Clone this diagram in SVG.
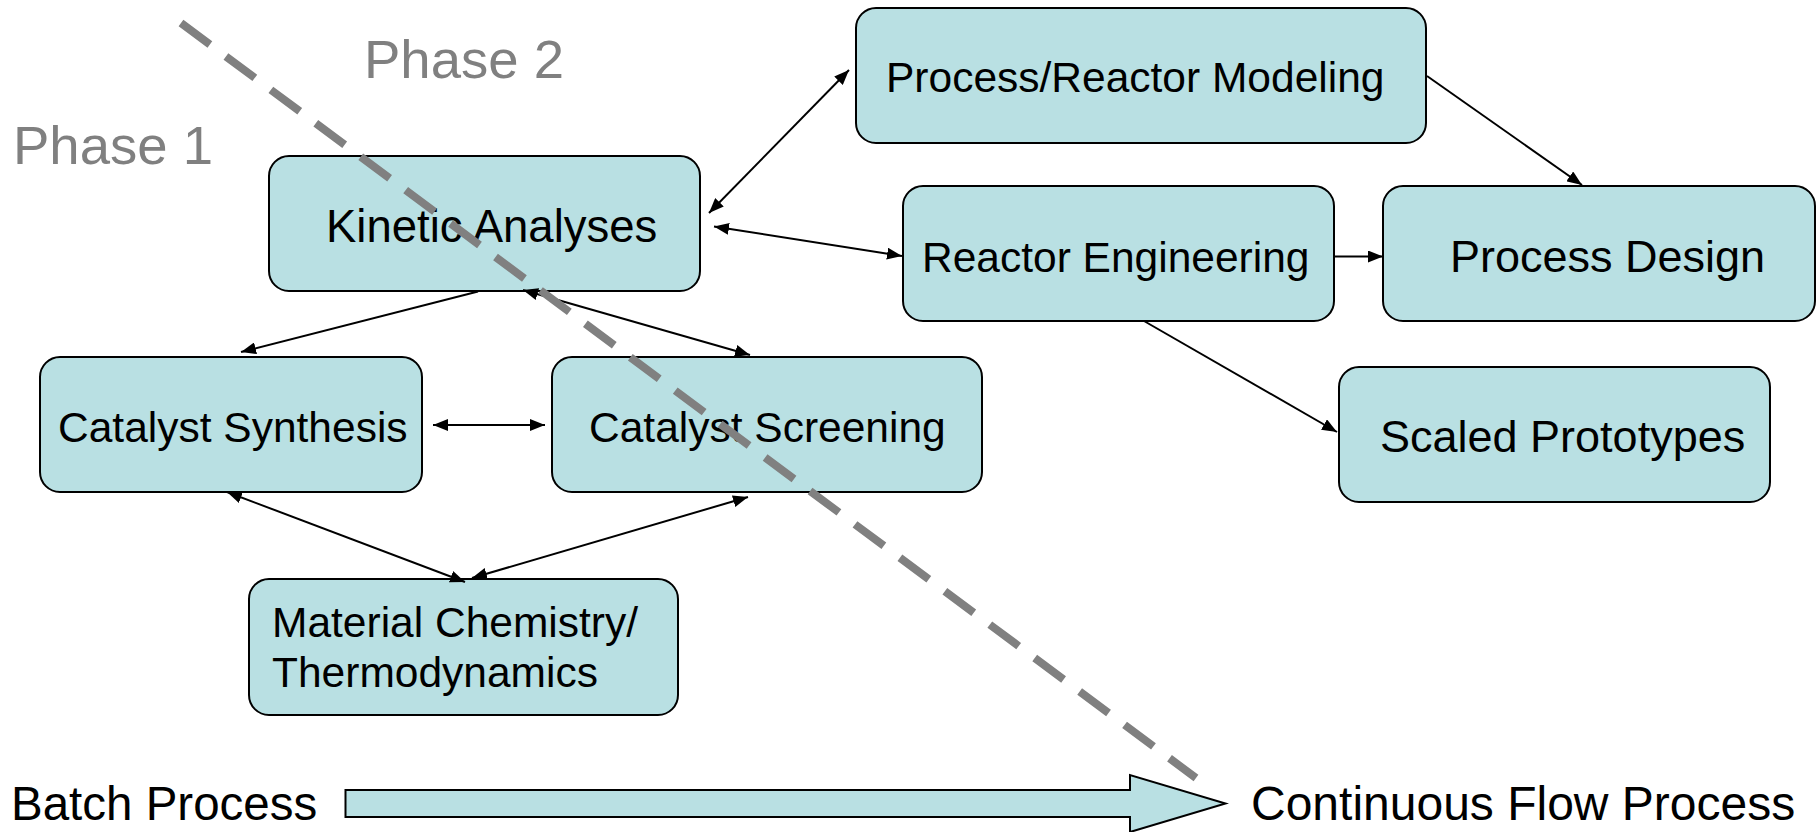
<svg xmlns="http://www.w3.org/2000/svg" width="1818" height="832" viewBox="0 0 1818 832">
<defs>
<style>
.box{fill:#b9e0e3;stroke:#000;stroke-width:2}
.t{font-family:"Liberation Sans",Arial,sans-serif;fill:#000}
.n{font-size:42.5px}
.b{font-size:45px}
.ph{font-family:"Liberation Sans",Arial,sans-serif;font-size:54.5px;fill:#808080}
.c{stroke:#000;stroke-width:2;fill:none}
.one{marker-end:url(#ah)}
.two{marker-start:url(#ah);marker-end:url(#ah)}
</style>
<marker id="ah" markerUnits="userSpaceOnUse" markerWidth="16" markerHeight="12" refX="15" refY="6" orient="auto-start-reverse">
<path d="M0,0 L15,6 L0,12 z" fill="#000"/>
</marker>
</defs>
<rect width="1818" height="832" fill="#fff"/>

<g id="phase-labels">
<text class="ph" x="13" y="164">Phase 1</text>
<text class="ph" x="364" y="78">Phase 2</text>
</g>

<g id="node-kinetic">
<rect class="box" x="269" y="156" width="431" height="135" rx="20"/>
<text class="t" x="326" y="241.5" font-size="45.5">Kinetic Analyses</text>
</g>
<g id="node-modeling">
<rect class="box" x="856" y="8" width="570" height="135" rx="20"/>
<text class="t n" x="886" y="91.5">Process/Reactor Modeling</text>
</g>
<g id="node-reactor">
<rect class="box" x="903" y="186" width="431" height="135" rx="20"/>
<text class="t n" x="922" y="271.5">Reactor Engineering</text>
</g>
<g id="node-design">
<rect class="box" x="1383" y="186" width="432" height="135" rx="20"/>
<text class="t b" x="1450" y="271.5">Process Design</text>
</g>
<g id="node-prototypes">
<rect class="box" x="1339" y="367" width="431" height="135" rx="20"/>
<text class="t b" x="1380" y="451.5">Scaled Prototypes</text>
</g>
<g id="node-synthesis">
<rect class="box" x="40" y="357" width="382" height="135" rx="20"/>
<text class="t n" x="58" y="442">Catalyst Synthesis</text>
</g>
<g id="node-screening">
<rect class="box" x="552" y="357" width="430" height="135" rx="20"/>
<text class="t n" x="589" y="442">Catalyst Screening</text>
</g>
<g id="node-material">
<rect class="box" x="249" y="579" width="429" height="136" rx="20"/>
<text class="t n" x="272" y="636.5">Material Chemistry/</text>
<text class="t n" x="272" y="686.5">Thermodynamics</text>
</g>

<g id="connectors">
<line class="c two" x1="709" y1="213" x2="849" y2="70"/>
<line class="c two" x1="714" y1="226.5" x2="902" y2="256"/>
<line class="c one" x1="1427" y1="76" x2="1582" y2="185"/>
<line class="c one" x1="1335" y1="256.5" x2="1383" y2="256.5"/>
<line class="c one" x1="1144" y1="321" x2="1337" y2="432"/>
<line class="c one" x1="478" y1="291.5" x2="241" y2="352"/>
<line class="c two" x1="523" y1="290" x2="750" y2="355"/>
<line class="c two" x1="433" y1="425" x2="545" y2="425"/>
<line class="c two" x1="227" y1="492" x2="465" y2="582"/>
<line class="c two" x1="748" y1="497" x2="472" y2="578"/>
</g>

<g id="phase-divider">
<line x1="181" y1="23" x2="1196" y2="778" stroke="#808080" stroke-width="8" stroke-dasharray="36 20"/>
</g>

<g id="flow-arrow">
<path class="box" d="M345.5,790 L1130,790 L1130,775 L1225.5,803.5 L1130,832 L1130,817 L345.5,817 z"/>
<text class="t" x="11" y="820" font-size="47.5">Batch Process</text>
<text class="t" x="1251" y="820" font-size="48">Continuous Flow Process</text>
</g>
</svg>
